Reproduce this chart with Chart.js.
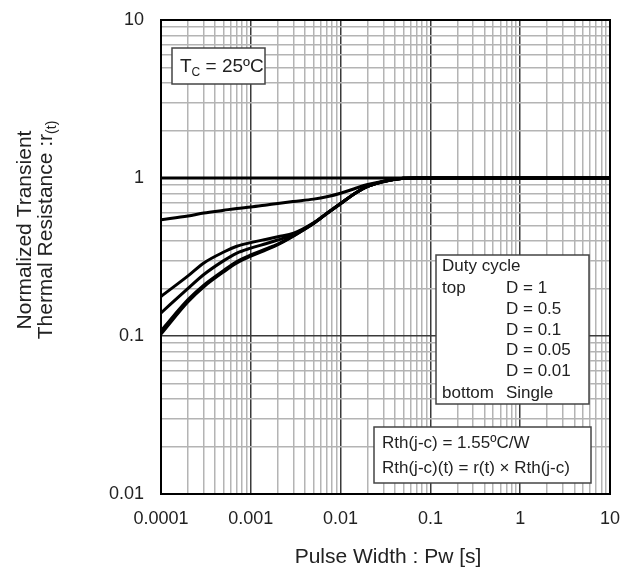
<!DOCTYPE html>
<html>
<head>
<meta charset="utf-8">
<script src="https://cdn.jsdelivr.net/npm/chart.js@4.4.0/dist/chart.umd.min.js"></script>
<style>
  body { margin: 0; background: #fff; }
  #wrap { width: 622px; height: 575px; }
</style>
</head>
<body>
<div id="wrap"><canvas id="chart" width="622" height="575"></canvas></div>
<script>
// pulse width [s] and normalized transient thermal resistance r(t)
const pulseWidth = [0.0001, 0.0002, 0.0003, 0.0005, 0.0007, 0.001, 0.0015, 0.002, 0.003, 0.005, 0.007, 0.01, 0.015, 0.02, 0.03, 0.05, 0.07, 0.1, 1, 10];
const dutyLabels = ['D = 1', 'D = 0.5', 'D = 0.1', 'D = 0.05', 'D = 0.01', 'Single'];
const rD1     = [1, 1, 1, 1, 1, 1, 1, 1, 1, 1, 1, 1, 1, 1, 1, 1, 1, 1, 1, 1];
const rD05    = [0.545, 0.575, 0.60, 0.625, 0.642, 0.655, 0.675, 0.69, 0.71, 0.735, 0.76, 0.80, 0.865, 0.91, 0.955, 0.995, 1, 1, 1, 1];
const rD01    = [0.178, 0.24, 0.29, 0.34, 0.37, 0.39, 0.41, 0.425, 0.447, 0.52, 0.597, 0.69, 0.81, 0.885, 0.95, 0.995, 1, 1, 1, 1];
const rD005   = [0.14, 0.20, 0.245, 0.30, 0.335, 0.36, 0.385, 0.405, 0.44, 0.518, 0.596, 0.69, 0.81, 0.885, 0.95, 0.995, 1, 1, 1, 1];
const rD001   = [0.108, 0.17, 0.21, 0.26, 0.296, 0.326, 0.357, 0.382, 0.432, 0.516, 0.595, 0.689, 0.81, 0.885, 0.95, 0.995, 1, 1, 1, 1];
const rSingle = [0.103, 0.165, 0.205, 0.255, 0.29, 0.32, 0.352, 0.378, 0.43, 0.515, 0.594, 0.688, 0.81, 0.885, 0.95, 0.995, 1, 1, 1, 1];
const xTickLabels = ['0.0001', '0.001', '0.01', '0.1', '1', '10'];
const yTickLabels = ['0.01', '0.1', '1', '10'];

const FONT = 'Liberation Sans, Arial, sans-serif';
const TXT = '#222';

function isDecade(v) {
  const l = Math.log10(v);
  return Math.abs(l - Math.round(l)) < 1e-9;
}
// 1..9 x 10^n lines between the labelled decades
function logGrid(labels) {
  const dec = labels.map(Number);
  const out = [];
  for (let i = 0; i < dec.length - 1; i++) {
    for (let k = 1; k <= 9; k++) out.push(+(k * dec[i]).toPrecision(6));
  }
  out.push(dec[dec.length - 1]);
  return out;
}
function tickLabel(labels) {
  return (v) => {
    const hit = labels.find(l => Math.abs(Math.log10(Number(l)) - Math.log10(v)) < 1e-9);
    return hit || '';
  };
}
const gridColor = (ctx) => (ctx.tick && isDecade(ctx.tick.value)) ? '#3a3a3a' : '#b4b4b4';
function noPad(s) {
  s.paddingLeft = 0; s.paddingRight = 0; s.paddingTop = 0; s.paddingBottom = 0;
}

const series = [rD1, rD05, rD01, rD005, rD001, rSingle];

const overlay = {
  id: 'overlay',
  afterDatasetsDraw(chart) {
    const { ctx, chartArea: a } = chart;
    ctx.save();
    ctx.strokeStyle = '#000';
    ctx.lineWidth = 2;
    ctx.strokeRect(a.left, a.top, a.right - a.left, a.bottom - a.top);

    function box(x, y, w, h) {
      ctx.fillStyle = '#fff';
      ctx.fillRect(x, y, w, h);
      ctx.strokeStyle = '#444';
      ctx.lineWidth = 1.5;
      ctx.strokeRect(x, y, w, h);
    }
    ctx.textBaseline = 'middle';
    ctx.textAlign = 'left';

    // Tc box
    box(172, 48, 93, 36);
    ctx.fillStyle = TXT;
    ctx.font = '19px ' + FONT;
    let x = 180;
    ctx.fillText('T', x, 67);
    x += ctx.measureText('T').width;
    ctx.font = '12px ' + FONT;
    ctx.fillText('C', x, 73);
    x += ctx.measureText('C').width;
    ctx.font = '19px ' + FONT;
    ctx.fillText(' = 25ºC', x, 67);

    // duty cycle legend
    box(436, 255, 153, 149);
    ctx.fillStyle = TXT;
    ctx.font = '17px ' + FONT;
    const rows = [266.7, 288.3, 309.3, 330, 350.7, 371.7, 393.3];
    ctx.fillText('Duty cycle', 442, rows[0]);
    ctx.fillText('top', 442, rows[1]);
    ctx.fillText('bottom', 442, rows[6]);
    dutyLabels.forEach((l, i) => ctx.fillText(l, 506, rows[i + 1]));

    // Rth box
    box(374, 427, 217, 56);
    ctx.fillStyle = TXT;
    ctx.font = '17px ' + FONT;
    ctx.fillText('Rth(j-c) = 1.55ºC/W', 382, 443.5);
    ctx.fillText('Rth(j-c)(t) = r(t) × Rth(j-c)', 382, 468.5);
    ctx.restore();
  },
  afterDraw(chart) {
    const { ctx } = chart;
    ctx.save();
    ctx.fillStyle = TXT;
    ctx.textBaseline = 'middle';
    ctx.textAlign = 'center';
    ctx.font = '21px ' + FONT;
    ctx.fillText('Pulse Width : Pw [s]', 388, 557);

    ctx.rotate(-Math.PI / 2);
    ctx.fillText('Normalized Transient', -230, 25);
    const main = 'Thermal Resistance :r';
    const w1 = ctx.measureText(main).width;
    ctx.font = '14px ' + FONT;
    const w2 = ctx.measureText('(t)').width;
    const start = -230 - (w1 + w2) / 2;
    ctx.textAlign = 'left';
    ctx.font = '21px ' + FONT;
    ctx.fillText(main, start, 46);
    ctx.font = '14px ' + FONT;
    ctx.fillText('(t)', start + w1, 52);
    ctx.restore();
  }
};

new Chart(document.getElementById('chart'), {
  type: 'line',
  data: {
    datasets: dutyLabels.map((label, i) => ({
      label: label,
      data: pulseWidth.map((p, j) => ({ x: p, y: series[i][j] })),
      borderColor: '#000',
      borderWidth: 3,
      pointRadius: 0,
      fill: false,
      cubicInterpolationMode: 'monotone'
    }))
  },
  options: {
    responsive: false,
    animation: false,
    layout: { padding: { top: 20, right: 12, left: 0, bottom: 0 } },
    plugins: { legend: { display: false }, tooltip: { enabled: false } },
    scales: {
      x: {
        type: 'logarithmic',
        min: 0.0001,
        max: 10,
        afterBuildTicks: (s) => { s.ticks = logGrid(xTickLabels).map(v => ({ value: v })); },
        afterFit: (s) => { s.height = 81; noPad(s); },
        ticks: {
          callback: tickLabel(xTickLabels),
          autoSkip: false,
          maxRotation: 0,
          padding: 14,
          color: TXT,
          font: { family: FONT, size: 18 }
        },
        grid: { color: gridColor, lineWidth: 1.5, drawTicks: false },
        border: { display: false }
      },
      y: {
        type: 'logarithmic',
        min: 0.01,
        max: 10,
        afterBuildTicks: (s) => { s.ticks = logGrid(yTickLabels).map(v => ({ value: v })); },
        afterFit: (s) => { s.width = 161; noPad(s); },
        ticks: {
          callback: tickLabel(yTickLabels),
          autoSkip: false,
          padding: 17,
          color: TXT,
          font: { family: FONT, size: 18 }
        },
        grid: { color: gridColor, lineWidth: 1.5, drawTicks: false },
        border: { display: false }
      }
    }
  },
  plugins: [overlay]
});
</script>
</body>
</html>
